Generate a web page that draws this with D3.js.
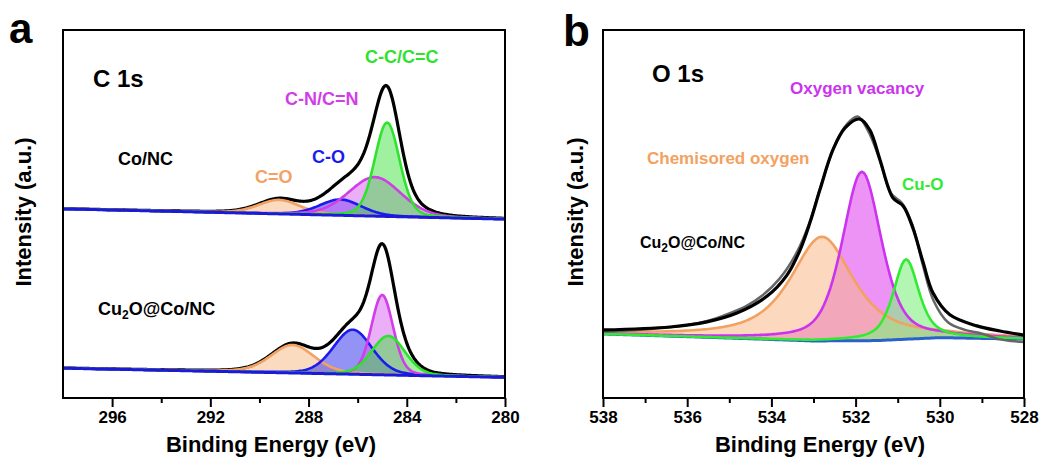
<!DOCTYPE html>
<html>
<head>
<meta charset="utf-8">
<script src="https://cdn.jsdelivr.net/npm/d3@7"></script>
<style>
  body { margin: 0; background: #fff; }
  svg text { font-family: "Liberation Sans", Arial, sans-serif; font-weight: bold; }
</style>
</head>
<body>
<div id="graph-container"></div>
<script>
// ---- Panel a: C 1s, fitted peaks (centre eV, height a.u., FWHM eV, Lorentz share)
var c1sNames = ["C=O", "C-O", "C-N/C=N", "C-C/C=C"];
var coNcCenters = [289.2, 286.7, 285.3, 284.8];
var coNcHeights = [0.38, 0.43, 1.06, 2.55];
var coNcFwhm = [2.0, 2.0, 2.5, 1.2];
var cuCoNcCenters = [288.65, 286.2, 285.0, 284.75];
var cuCoNcHeights = [0.76, 1.21, 2.17, 1.06];
var cuCoNcFwhm = [2.1, 1.85, 1.05, 1.6];
var c1sMix = [0.3, 0.2, 0.2, 0.2];
var coNcBaseline = [[298, 5.14], [280, 4.86]];
var cuCoNcBaseline = [[298, 0.81], [280, 0.56]];
var c1sTicks = [296, 292, 288, 284, 280];
var c1sMinorTicks = [294, 290, 286, 282];

// ---- Panel b: O 1s
var o1sNames = ["Chemisored oxygen", "Oxygen vacancy", "Cu-O"];
var o1sCenters = [532.8, 531.85, 530.8];
var o1sHeights = [2.83, 4.59, 2.17];
var o1sFwhm = [1.8, 1.1, 0.72];
var o1sMix = [0.8, 0.5, 0.6];
var o1sBaseline = [[538, 1.74], [535, 1.63], [533, 1.55], [531.5, 1.56], [530, 1.64], [528, 1.60]];
var o1sEnvelope = [[538, 1.85], [536.41, 1.93], [535.53, 2.07], [534.82, 2.31], [534.1, 2.77],
  [533.63, 3.34], [533.32, 4.02], [533.08, 4.78], [532.85, 5.65], [532.54, 6.74], [532.25, 7.34],
  [531.9, 7.58], [531.66, 7.28], [531.42, 6.47], [531.11, 5.43], [530.87, 5.22], [530.64, 4.62],
  [530.4, 3.7], [530.16, 2.85], [529.76, 2.26], [529.12, 1.96], [528.57, 1.82], [528, 1.71]];
var o1sRaw = [[538, 1.8], [537, 1.86], [536, 1.98], [535.5, 2.1], [535, 2.3], [534.6, 2.5],
  [534.2, 2.8], [533.8, 3.25], [533.4, 3.95], [533.1, 4.75], [532.8, 5.85], [532.5, 6.85],
  [532.2, 7.45], [531.95, 7.65], [531.7, 7.25], [531.45, 6.55], [531.15, 5.55], [530.9, 5.3],
  [530.65, 4.7], [530.4, 3.6], [530.15, 2.65], [529.8, 2.05], [529.4, 1.85], [529, 1.75],
  [528.6, 1.6], [528.3, 1.55], [528, 1.52]];
var o1sTicks = [538, 536, 534, 532, 530, 528];
var o1sMinorTicks = [537, 535, 533, 531, 529];

var svgWidth = 1048;
var svgHeight = 462;

var svg = d3.select("#graph-container")
  .append("svg")
  .attr("width", svgWidth)
  .attr("height", svgHeight);

// pseudo-Voigt line shape
function peak(x, c, h, w, eta) {
  var t = (x - c) / w;
  var g = Math.exp(-4 * Math.LN2 * t * t);
  var l = 1 / (1 + 4 * t * t);
  return h * (eta * l + (1 - eta) * g);
}

function grid(lo, hi) {
  return d3.range(lo, hi + 0.001, 0.05);
}

function baselineFn(pts) {
  return d3.scaleLinear().domain(pts.map(function (d) { return d[0]; }))
    .range(pts.map(function (d) { return d[1]; }));
}

function drawFrame(g, x, y, ticks, minor) {
  var r = x.range(), h = y.range();
  g.append("g")
    .attr("transform", "translate(0," + h[0] + ")")
    .call(d3.axisBottom(x).tickValues(minor).tickSize(5).tickFormat(""))
    .call(function (s) { s.select(".domain").remove(); s.selectAll("line").attr("stroke-width", 2); });
  g.append("g")
    .attr("transform", "translate(0," + h[0] + ")")
    .call(d3.axisBottom(x).tickValues(ticks).tickSize(9).tickPadding(4).tickFormat(d3.format("d")))
    .call(function (s) {
      s.select(".domain").remove();
      s.selectAll("line").attr("stroke-width", 2);
      s.selectAll("text").attr("font-size", 17).attr("fill", "#000")
        .style("font-family", "'Liberation Sans', Arial, sans-serif").style("font-weight", "bold");
    });
  g.append("rect")
    .attr("x", r[0]).attr("y", h[1])
    .attr("width", r[1] - r[0]).attr("height", h[0] - h[1])
    .attr("fill", "none").attr("stroke", "#000").attr("stroke-width", 2);
}

// ================= Panel a =================
var aX = d3.scaleLinear().domain([298, 280]).range([63, 505]);
var aY = d3.scaleLinear().domain([0, 10]).range([398, 30]);
var pa = svg.append("g");
pa.append("clipPath").attr("id", "clipA").append("rect")
  .attr("x", 63).attr("y", 30).attr("width", 442).attr("height", 368);

var aStroke = ["#f3a264", "#1b1bef", "#d03ee8", "#2ee22e"];
var aFill = ["#f7be8a", "#3a3aef", "#d65ff0", "#3fe23f"];
var aFillOp = [0.55, 0.55, 0.5, 0.5];
var aLine = d3.line().x(function (d) { return aX(d[0]); }).y(function (d) { return aY(d[1]); })
  .curve(d3.curveLinear);
var aArea = d3.area().x(function (d) { return aX(d[0]); })
  .y0(function (d) { return aY(d[2]); }).y1(function (d) { return aY(d[1]); });

function drawC1s(centers, heights, fwhm, basePts) {
  var base = baselineFn(basePts);
  var xs = grid(280, 298);
  var g = pa.append("g").attr("clip-path", "url(#clipA)");
  var comps = centers.map(function (c, i) {
    return xs.map(function (x) {
      return [x, base(x) + peak(x, c, heights[i], fwhm[i], c1sMix[i]), base(x)];
    });
  });
  comps.forEach(function (pts, i) {
    g.append("path").attr("d", aArea(pts)).attr("fill", aFill[i]).attr("fill-opacity", aFillOp[i]);
  });
  var env = xs.map(function (x) {
    var s = base(x);
    centers.forEach(function (c, i) { s += peak(x, c, heights[i], fwhm[i], c1sMix[i]); });
    return [x, s];
  });
  g.append("path").attr("d", aLine(env)).attr("fill", "none")
    .attr("stroke", "#000").attr("stroke-width", 3.2);
  comps.forEach(function (pts, i) {
    g.append("path").attr("d", aLine(pts)).attr("fill", "none")
      .attr("stroke", aStroke[i]).attr("stroke-width", 2.6);
  });
  g.append("path").attr("d", aLine(xs.map(function (x) { return [x, base(x)]; })))
    .attr("fill", "none").attr("stroke", "#1a1ad8").attr("stroke-width", 3);
}

drawC1s(coNcCenters, coNcHeights, coNcFwhm, coNcBaseline);
drawC1s(cuCoNcCenters, cuCoNcHeights, cuCoNcFwhm, cuCoNcBaseline);
drawFrame(pa, aX, aY, c1sTicks, c1sMinorTicks);

// labels panel a
pa.append("text").attr("x", 9).attr("y", 43).attr("font-size", 42).text("a");
pa.append("text").attr("x", 93).attr("y", 87).attr("font-size", 24).text("C 1s");
pa.append("text").attr("x", 118).attr("y", 165).attr("font-size", 18).text("Co/NC");
var cuA = pa.append("text").attr("x", 98).attr("y", 315).attr("font-size", 18);
cuA.append("tspan").text("Cu");
cuA.append("tspan").attr("font-size", 12).attr("dy", 4).text("2");
cuA.append("tspan").attr("dy", -4).text("O@Co/NC");
var aLabelX = [255, 312, 285, 365];
var aLabelY = [183, 163, 105, 63];
c1sNames.forEach(function (n, i) {
  pa.append("text").attr("x", aLabelX[i]).attr("y", aLabelY[i]).attr("font-size", 18)
    .attr("fill", aStroke[i]).text(n);
});
pa.append("text").attr("x", 271).attr("y", 452).attr("font-size", 22)
  .attr("text-anchor", "middle").text("Binding Energy (eV)");
pa.append("text").attr("transform", "translate(31,212) rotate(-90)").attr("font-size", 22)
  .attr("text-anchor", "middle").text("Intensity (a.u.)");

// ================= Panel b =================
var bX = d3.scaleLinear().domain([538, 528]).range([603, 1024]);
var bY = d3.scaleLinear().domain([0, 10]).range([398, 30]);
var pb = svg.append("g");
pb.append("clipPath").attr("id", "clipB").append("rect")
  .attr("x", 603).attr("y", 30).attr("width", 421).attr("height", 368);

var bStroke = ["#f3a160", "#cc33ee", "#33ea33"];
var bFill = ["#f8b888", "#ea80f5", "#80f080"];
var bFillOp = [0.55, 0.85, 0.6];
var bFillOrder = [1, 0, 2];
var bLine = d3.line().x(function (d) { return bX(d[0]); }).y(function (d) { return bY(d[1]); });
var bArea = d3.area().x(function (d) { return bX(d[0]); })
  .y0(function (d) { return bY(d[2]); }).y1(function (d) { return bY(d[1]); });

var bBase = baselineFn(o1sBaseline);
var bxs = grid(528, 538);
var gb = pb.append("g").attr("clip-path", "url(#clipB)");
var bComps = o1sCenters.map(function (c, i) {
  return bxs.map(function (x) {
    return [x, bBase(x) + peak(x, c, o1sHeights[i], o1sFwhm[i], o1sMix[i]), bBase(x)];
  });
});
bFillOrder.forEach(function (i) {
  gb.append("path").attr("d", bArea(bComps[i])).attr("fill", bFill[i]).attr("fill-opacity", bFillOp[i]);
});
gb.append("path").attr("d", bLine(bxs.map(function (x) { return [x, bBase(x)]; })))
  .attr("fill", "none").attr("stroke", "#2a62cc").attr("stroke-width", 3);
bComps.forEach(function (pts, i) {
  gb.append("path").attr("d", bLine(pts)).attr("fill", "none")
    .attr("stroke", bStroke[i]).attr("stroke-width", 2.6);
});
gb.append("path").attr("d", bLine.curve(d3.curveCatmullRom)(o1sRaw)).attr("fill", "none")
  .attr("stroke", "#666").attr("stroke-width", 2.5);
gb.append("path").attr("d", bLine.curve(d3.curveCatmullRom)(o1sEnvelope)).attr("fill", "none")
  .attr("stroke", "#000").attr("stroke-width", 3.2);
drawFrame(pb, bX, bY, o1sTicks, o1sMinorTicks);

pb.append("text").attr("x", 563).attr("y", 46).attr("font-size", 44).text("b");
pb.append("text").attr("x", 652).attr("y", 82).attr("font-size", 24).text("O 1s");
var cuB = pb.append("text").attr("x", 640).attr("y", 248).attr("font-size", 16);
cuB.append("tspan").text("Cu");
cuB.append("tspan").attr("font-size", 12).attr("dy", 4).text("2");
cuB.append("tspan").attr("dy", -4).text("O@Co/NC");
var bLabelX = [647, 790, 902];
var bLabelY = [164, 94, 190];
o1sNames.forEach(function (n, i) {
  pb.append("text").attr("x", bLabelX[i]).attr("y", bLabelY[i]).attr("font-size", 17)
    .attr("fill", bStroke[i]).text(n);
});
pb.append("text").attr("x", 820).attr("y", 452).attr("font-size", 22)
  .attr("text-anchor", "middle").text("Binding Energy (eV)");
pb.append("text").attr("transform", "translate(583,212) rotate(-90)").attr("font-size", 22)
  .attr("text-anchor", "middle").text("Intensity (a.u.)");
</script>
</body>
</html>
